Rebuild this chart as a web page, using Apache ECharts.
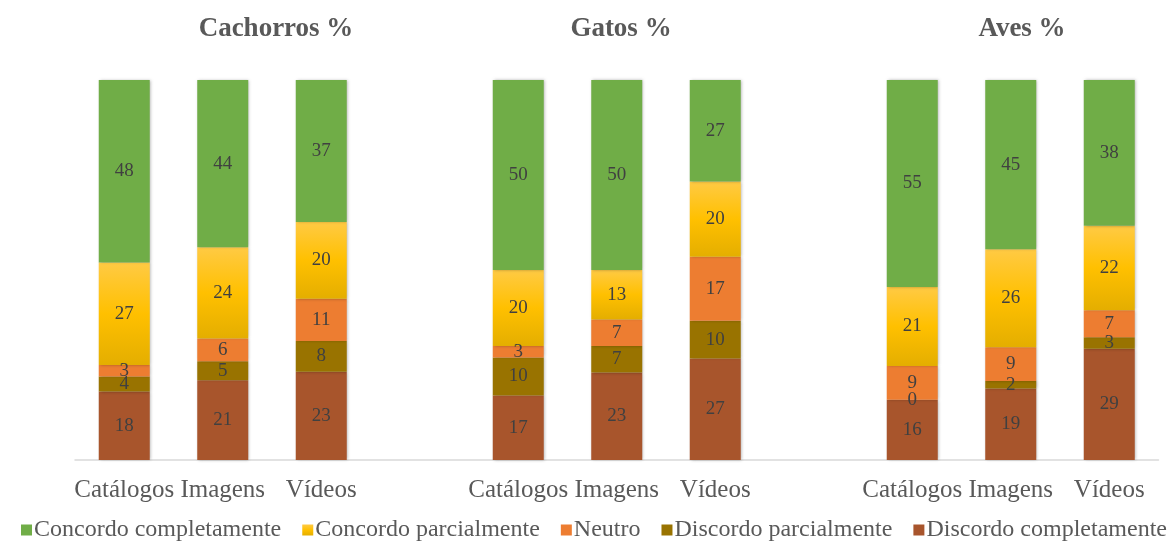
<!DOCTYPE html>
<html>
<head>
<meta charset="utf-8">
<script src="https://cdn.jsdelivr.net/npm/echarts@6/dist/echarts.min.js"></script>
<style>
  html, body { margin: 0; padding: 0; background: #fff; }
  #chart { width: 1174px; height: 543px; }
</style>
</head>
<body>
<div id="chart"></div>
<script>
// one row of columns, empty slots separate the three groups
const categories = ['Catálogos', 'Imagens', 'Vídeos', '', 'Catálogos', 'Imagens', 'Vídeos', '', 'Catálogos', 'Imagens', 'Vídeos'];
const panelTitles = ['Cachorros %', 'Gatos %', 'Aves %'];

const discordoCompletamente = [18, 21, 23, null, 17, 23, 27, null, 16, 19, 29];
const discordoParcialmente  = [4, 5, 8, null, 10, 7, 10, null, 0, 2, 3];
const neutro                = [3, 6, 11, null, 3, 7, 17, null, 9, 9, 7];
const concordoParcialmente  = [27, 24, 20, null, 20, 13, 20, null, 21, 26, 22];
const concordoCompletamente = [48, 44, 37, null, 50, 50, 27, null, 55, 45, 38];

const seriesList = [
  { name: 'Discordo completamente', values: discordoCompletamente, color: '#a8552c' },
  { name: 'Discordo parcialmente', values: discordoParcialmente, color: '#997300' },
  { name: 'Neutro', values: neutro, color: '#ed7d31' },
  { name: 'Concordo parcialmente', values: concordoParcialmente,
    color: new echarts.graphic.LinearGradient(0, 0, 0, 1, [
      { offset: 0, color: '#ffca44' },
      { offset: 0.5, color: '#ffc000' },
      { offset: 1, color: '#e4ae00' }
    ]) },
  { name: 'Concordo completamente', values: concordoCompletamente, color: '#70ad47' }
];

// 100% stacked: each column is scaled to its own total
const totals = categories.map((c, i) =>
  seriesList.reduce((s, item) => s + (item.values[i] || 0), 0));

const serif = '"Liberation Serif", "Times New Roman", serif';
const chart = echarts.init(document.getElementById('chart'));

const titleX = [271, 616, 1017];

const option = {
  animation: false,
  backgroundColor: '#fff',
  title: panelTitles.map((t, i) => ({
    text: t,
    left: titleX[i],
    top: 11,
    textAlign: 'center',
    textStyle: { fontFamily: serif, fontSize: 27, fontWeight: 'bold', color: '#595959' }
  })),
  grid: { left: 75, right: 15.5, top: 80, bottom: 83 },
  legend: {
    bottom: -4,
    left: 16,
    itemWidth: 11,
    itemHeight: 11,
    itemGap: 21,
    icon: 'rect',
    data: ['Concordo completamente', 'Concordo parcialmente', 'Neutro', 'Discordo parcialmente', 'Discordo completamente'],
    textStyle: { fontFamily: serif, fontSize: 24, color: '#595959', padding: [0, 0, 0, -3] }
  },
  xAxis: {
    type: 'category',
    data: categories,
    axisLine: { lineStyle: { color: '#d9d9d9', width: 1.5 } },
    axisTick: { show: false },
    axisLabel: { fontFamily: serif, fontSize: 25, color: '#595959', margin: 18, interval: 0 }
  },
  yAxis: {
    type: 'value',
    min: 0,
    max: 100,
    show: false
  },
  series: seriesList.map(s => ({
    name: s.name,
    type: 'bar',
    stack: 'total',
    barWidth: 51,
    data: s.values.map((v, i) => v == null ? null : v / totals[i] * 100),
    itemStyle: {
      color: s.color,
      shadowBlur: 3,
      shadowColor: 'rgba(0,0,0,0.3)',
      shadowOffsetX: 1
    },
    label: {
      show: true,
      position: 'inside',
      fontFamily: serif,
      fontSize: 19,
      color: '#404040',
      formatter: p => s.values[p.dataIndex] == null ? '' : String(s.values[p.dataIndex])
    }
  }))
};

chart.setOption(option);
</script>
</body>
</html>
